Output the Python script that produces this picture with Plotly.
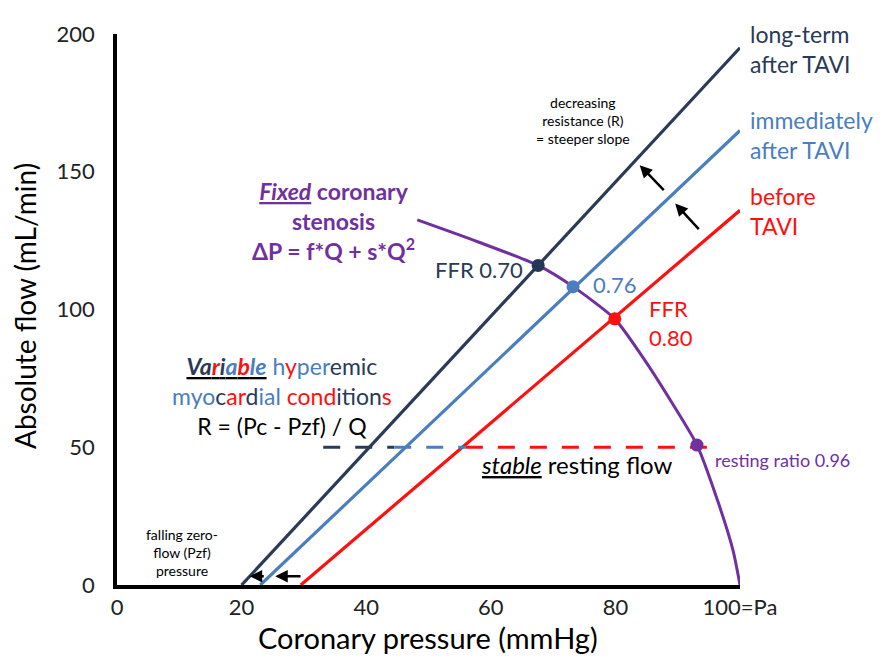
import plotly.graph_objects as go

# ---------------- data ----------------
xtick_vals = [0, 20, 40, 60, 80, 100]
xtick_text = ["0", "20", "40", "60", "80", "100=Pa"]
ytick_vals = [0, 50, 100, 150, 200]
ytick_text = ["0", "50", "100", "150", "200"]

long_term_x = [20, 100]
long_term_y = [0, 195]
immediate_x = [23, 100]
immediate_y = [0, 165]
before_x = [29.5, 100]
before_y = [0, 136]

stenosis_x = [48.2, 58.0, 67.6, 73.2, 79.9, 84.6, 89.2, 93.1, 96.5, 98.9, 100.0]
stenosis_y = [132.5, 124.5, 116.0, 108.3, 96.6, 82.0, 65.7, 50.8, 30.0, 12.4, 0.0]

ffr_x = [67.6, 73.2, 79.9, 93.1]
ffr_y = [116.0, 108.3, 96.6, 50.8]
ffr_colors = ["#253755", "#4a7ebf", "#ff1010", "#7030a0"]

rest_flow = 50
rest_navy_x = [33.1, 44.5]
rest_blue_x = [44.5, 56.0]
rest_red_x = [56.0, 96.3]

NAVY = "#2a3a57"
BLUE = "#4a7ebf"
RED = "#ff1010"
PURPLE = "#7030a0"
FONT = "Lato"

fig = go.Figure()

def line(x, y, color, dash=None, width=3.2):
    fig.add_trace(go.Scatter(x=x, y=y, mode="lines", cliponaxis=False,
                             line=dict(color=color, width=width, dash=dash),
                             hoverinfo="skip", showlegend=False))

line(long_term_x, long_term_y, NAVY)
line(immediate_x, immediate_y, BLUE)
line(before_x, before_y, RED)

dash = "17px,15px"
line(rest_navy_x, [rest_flow] * 2, NAVY, dash)
line(rest_blue_x, [rest_flow] * 2, BLUE, dash)
line(rest_red_x, [rest_flow] * 2, RED, dash)

fig.add_trace(go.Scatter(x=stenosis_x, y=stenosis_y, mode="lines", cliponaxis=False,
                         line=dict(color=PURPLE, width=3, shape="spline", smoothing=0.6),
                         hoverinfo="skip", showlegend=False))

fig.add_trace(go.Scatter(x=ffr_x, y=ffr_y, mode="markers", cliponaxis=False,
                         marker=dict(color=ffr_colors, size=13),
                         hoverinfo="skip", showlegend=False))

ann = []

def txt(x, y, text, color="black", size=20, xanchor="center", ref="data", **kw):
    d = dict(x=x, y=y, text=text, showarrow=False, xanchor=xanchor, yanchor="middle",
             font=dict(family=FONT, size=size, color=color), align=kw.pop("align", "center"))
    if ref == "paper":
        d.update(xref="paper", yref="paper")
    d.update(kw)
    ann.append(d)

def arrow(x0, y0, x1, y1):
    ann.append(dict(x=x1, y=y1, ax=x0, ay=y0, xref="x", yref="y", axref="x", ayref="y",
                    text="", showarrow=True, arrowhead=2, arrowsize=1, arrowwidth=2.5,
                    arrowcolor="black"))

# right side labels
txt(1.013, 0.972, "long-term<br>after TAVI", NAVY, 23, "left", "paper", align="left")
txt(1.013, 0.817, "immediately<br>after TAVI", BLUE, 23, "left", "paper", align="left")
txt(1.013, 0.679, "before<br>TAVI", RED, 23, "left", "paper", align="left")

txt(74.8, 168.7, "decreasing<br>resistance (R)<br>= steeper slope", "black", 14)
arrow(88.0, 142.8, 83.9, 152.4)
arrow(93.6, 128.6, 89.6, 138.5)

txt(34.7, 132.1, "<u><b><i>Fixed</i></b></u><b> coronary</b><br><b>stenosis</b><br>"
    "<b>ΔP = f*Q + s*Q<sup>2</sup></b>", PURPLE, 23)

txt(58.1, 114.4, "FFR 0.70", NAVY, 22)
txt(79.9, 109.1, "0.76", BLUE, 22)
txt(85.1, 95.0, "FFR<br>0.80", RED, 22, "left", align="left")

def c(s, col):
    return f"<span style='color:{col}'>{s}</span>"

variable = ("<u><b><i>" + c("Va", NAVY) + c("r", RED) + c("i", NAVY) + c("a", BLUE)
            + c("b", RED) + c("le", BLUE) + "</i></b></u>"
            + c(" h", BLUE) + c("y", RED) + c("per", BLUE) + c("emic", NAVY))
myocard = (c("myo", BLUE) + c("c", NAVY) + c("ar", RED) + c("d", NAVY) + c("ial", BLUE)
           + c(" con", RED) + c("d", RED) + c("ition", NAVY) + c("s", RED))
txt(26.5, 68.6, variable + "<br>" + myocard + "<br>" + c("R = (Pc - Pzf) / Q", "black"),
    "black", 23)

txt(73.8, 43.7, "<u><i>stable</i></u> resting flow", "black", 24)
txt(95.7, 45.5, "resting ratio 0.96", PURPLE, 18, "left")

txt(10.4, 11.7, "falling zero-<br>flow (Pzf)<br>pressure", "black", 14)
arrow(29.7, 3.2, 25.4, 3.2)
arrow(23.8, 3.2, 21.3, 3.2)

# axis titles
txt(0.499, -0.095, "Coronary pressure (mmHg)", "black", 29, "center", "paper")
txt(-0.148, 0.506, "Absolute flow (mL/min)", "black", 28, "center", "paper", textangle=-90)

fig.update_layout(
    width=891, height=660,
    margin=dict(l=109, r=159, t=14, b=83),
    paper_bgcolor="white", plot_bgcolor="white",
    annotations=ann,
    xaxis=dict(range=[0, 100], showgrid=False, zeroline=False, showline=True,
               linecolor="black", linewidth=3.5, tickvals=xtick_vals, ticktext=xtick_text,
               ticks="", ticklabelstandoff=0, ticklabeloverflow="allow",
               tickfont=dict(family=FONT, size=22, color="#222")),
    yaxis=dict(range=[0, 200], showgrid=False, zeroline=False, showline=True,
               linecolor="black", linewidth=3.5, tickvals=ytick_vals, ticktext=ytick_text,
               ticks="", ticklabelstandoff=14, ticklabeloverflow="allow",
               tickfont=dict(family=FONT, size=22, color="#222")),
)

fig.write_html("out.html")
